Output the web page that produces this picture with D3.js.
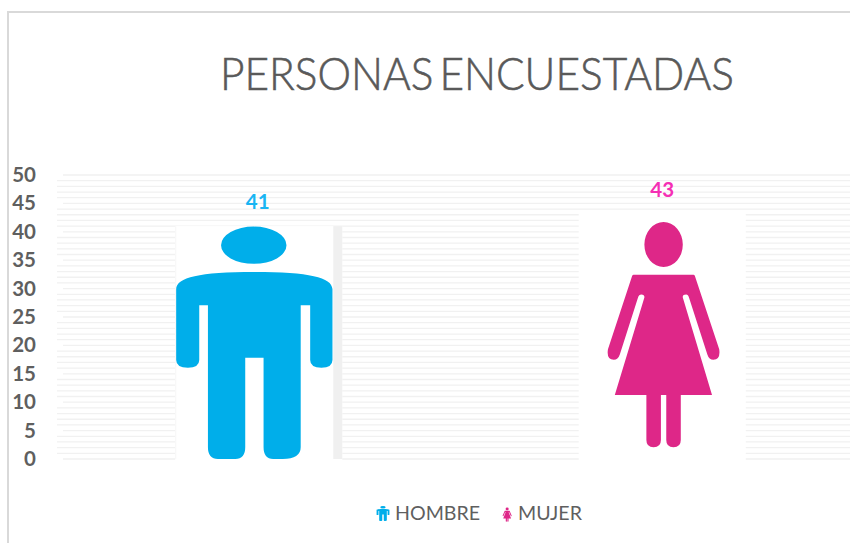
<!DOCTYPE html>
<html>
<head>
<meta charset="utf-8">
<script src="https://cdn.jsdelivr.net/npm/d3@7"></script>
<style>
html,body{margin:0;padding:0;background:#fff;overflow:hidden}
svg{display:block}
text{font-family:Lato,"Open Sans",sans-serif}
</style>
</head>
<body>
<svg id="chart" width="850" height="543"></svg>
<script>
const title = "PERSONAS ENCUESTADAS";
const categories = ["HOMBRE", "MUJER"];
const values = [41, 43];
const fillColors = ["#00aeea", "#de2788"];
const labelColors = ["#19b5f3", "#f52fb4"];
const yTicks = [0, 5, 10, 15, 20, 25, 30, 35, 40, 45, 50];

// Pictogram outlines in a 100x100 unit box, stretched onto each bar
const manGlyph = "M0.6,27C1,22 15,19.7 50,19.7C85,19.7 99,22 99.5,27L99.5,57.5Q99.5,60.8 92.5,60.8Q85.4,60.8 85.4,57.5L85.4,34L79.4,34L79.4,95Q79.4,100 68,100L62,100Q55.9,100 55.9,95L55.9,56.5L44.3,56.5L44.3,95Q44.3,100 38,100L27,100Q20.7,100 20.7,95L20.7,34L15.2,34L15.2,57.5Q15.2,60.8 8,60.8Q0.6,60.8 0.6,57.5Z M29,8.2A20.7,8 0 1,1 70.4,8.2A20.7,8 0 1,1 29,8.2Z";
const womanGlyph = "M31.9,25.2Q32.2,24.6 32.9,24.6L68.7,24.6Q69.3,24.6 69.6,25.2L84.1,55.1Q85,59.4 80.6,59.4Q78,59.4 77,57.2L66,33.9Q65.5,32.6 64.3,32.6Q62,32.6 62.3,33.9L79.8,73.8L61.1,73.8L61.1,92.2Q61.1,95.2 56.7,95.2Q52.4,95.2 52.4,92.2L52.4,73.8L49.2,73.8L49.2,92.2Q49.2,95.2 44.8,95.2Q40.5,95.2 40.5,92.2L40.5,73.8L21.6,73.8L39.3,33.9Q39.5,32.6 37.5,32.6Q36,32.6 35.5,33.9L24.6,57.2Q23.5,59.4 21,59.4Q16.5,59.4 17.5,55.1Z M39.3,12.2A11.5,9.2 0 1,1 62.3,12.2A11.5,9.2 0 1,1 39.3,12.2Z";
const glyphs = [manGlyph, womanGlyph];
const glyphWidthShare = [0.946, 1];

const svg = d3.select("#chart");
const gridColor = "#f1f1f1", textColor = "#5f5f5f";

// frame
svg.append("path").attr("d", "M8,543V12H850").attr("fill", "none").attr("stroke", "#d9d9d9").attr("stroke-width", 2);

const x = d3.scaleBand().domain(categories).range([57, 864]).paddingInner(0.586).paddingOuter(0.293);
const y = d3.scaleLinear().domain([0, 50]).range([459, 175]);

// grid: a line per unit, the multiples of five start further right
const g = svg.append("g");
g.selectAll("line").data(d3.range(0, 51)).join("line")
  .attr("x1", d => d % 5 === 0 ? 63 : 57)
  .attr("x2", 850)
  .attr("y1", d => y(d)).attr("y2", d => y(d))
  .attr("stroke", gridColor).attr("stroke-width", 1.3);

// y axis labels
const axis = d3.axisLeft(y).tickValues(yTicks).tickSize(0).tickPadding(0);
const ax = svg.append("g").attr("transform", "translate(36,0)").call(axis);
ax.select(".domain").remove();
ax.selectAll("text").attr("font-size", 20.5).attr("font-weight", 700).attr("fill", textColor)
  .style("font-family", "Lato,sans-serif");

// bars with pictogram fills
const bars = svg.selectAll("g.bar").data(categories).join("g").attr("class", "bar");
bars.each(function (c, i) {
  const top = y(values[i]), h = y(0) - top, w = x.bandwidth();
  const b = d3.select(this);
  b.append("rect").attr("x", x(c)).attr("y", top - (i ? 2 : 0)).attr("width", w).attr("height", h + 1 + (i ? 2 : 0)).attr("fill", "#fff");
  if (i === 0) {
    const gw = w * glyphWidthShare[i];
    b.append("rect").attr("x", x(c) + gw).attr("y", top).attr("width", w - gw).attr("height", h).attr("fill", "#f0f0f0");
    b.append("rect").attr("x", x(c)).attr("y", top).attr("width", 1).attr("height", h).attr("fill", "#f6f6f6");
  }
  b.append("path").attr("d", glyphs[i]).attr("fill", fillColors[i])
    .attr("transform", `translate(${x(c)},${top}) scale(${w * glyphWidthShare[i] / 100},${h / 100})`);
  b.append("text").text(values[i])
    .attr("x", x(c) + w / 2 - (i ? 0 : 1)).attr("y", top - 17.5)
    .attr("text-anchor", "middle").attr("font-size", 20.5).attr("font-weight", 700).attr("fill", labelColors[i]);
});

// title
svg.append("text").text(title).attr("x", 220).attr("y", 90)
  .attr("font-size", 46).attr("font-weight", 300).attr("fill", "#595959")
  .attr("stroke", "#595959").attr("stroke-width", 0.6).attr("word-spacing", -6)
  .attr("textLength", 514).attr("lengthAdjust", "spacingAndGlyphs");

// legend
const legendIconX = [376.5, 500.3], legendIconW = [13, 13.5], legendIconY = [506, 507], legendIconH = [15, 15.5], legendTextX = [395, 518];
categories.forEach((c, i) => {
  svg.append("path").attr("d", glyphs[i]).attr("fill", fillColors[i])
    .attr("transform", `translate(${legendIconX[i]},${legendIconY[i]}) scale(${legendIconW[i] / 100},${legendIconH[i] / 100})`);
  svg.append("text").text(c).attr("x", legendTextX[i]).attr("y", 520)
    .attr("font-size", 19.6).attr("fill", textColor);
});
</script>
</body>
</html>
